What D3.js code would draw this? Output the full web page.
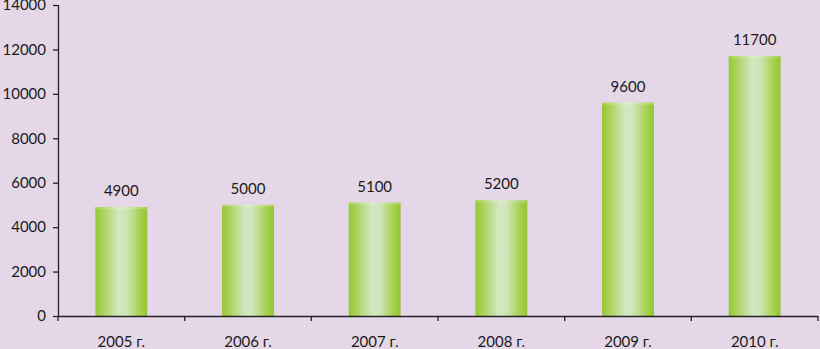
<!DOCTYPE html>
<html>
<head>
<meta charset="utf-8">
<script src="https://cdn.jsdelivr.net/npm/d3@7"></script>
<style>
  html, body { margin: 0; padding: 0; background: #e5d7e7; }
  svg { display: block; }
  text { font-family: Lato, "Open Sans", sans-serif; fill: #1a1a1a; }
</style>
</head>
<body>
<svg id="chart" width="820" height="349"></svg>
<script>
const categories = ["2005 г.", "2006 г.", "2007 г.", "2008 г.", "2009 г.", "2010 г."];
const values = [4900, 5000, 5100, 5200, 9600, 11700];
const yTicks = [0, 2000, 4000, 6000, 8000, 10000, 12000, 14000];

const svg = d3.select("#chart");
const W = 820, H = 349;
const m = { left: 58, right: 2, top: 5, bottom: 33 };

const x = d3.scaleBand().domain(categories).range([m.left, W - m.right]).paddingInner(0.59).paddingOuter(0.295);
const y = d3.scaleLinear().domain([0, 14000]).range([H - m.bottom, m.top]);

const defs = svg.append("defs");
const grad = defs.append("linearGradient").attr("id", "barGrad").attr("x1", "0%").attr("x2", "100%").attr("y1", "0%").attr("y2", "0%");
grad.append("stop").attr("offset", "0%").attr("stop-color", "#94c73a");
grad.append("stop").attr("offset", "12%").attr("stop-color", "#a6d052");
grad.append("stop").attr("offset", "45%").attr("stop-color", "#d3e7c2");
grad.append("stop").attr("offset", "60%").attr("stop-color", "#cfe5b8");
grad.append("stop").attr("offset", "88%").attr("stop-color", "#a3cf47");
grad.append("stop").attr("offset", "100%").attr("stop-color", "#93c534");

const capGrad = defs.append("linearGradient").attr("id", "capGrad").attr("x1", "0%").attr("x2", "100%");
capGrad.append("stop").attr("offset", "0%").attr("stop-color", "#a7d150");
capGrad.append("stop").attr("offset", "50%").attr("stop-color", "#e0efd2");
capGrad.append("stop").attr("offset", "100%").attr("stop-color", "#a7d150");

const g = svg.append("g");

g.selectAll("rect.bar").data(values).join("rect")
  .attr("class", "bar")
  .attr("x", (d, i) => x(categories[i]))
  .attr("width", x.bandwidth())
  .attr("y", d => y(d))
  .attr("height", d => y(0) - y(d))
  .attr("fill", "url(#barGrad)");

g.selectAll("rect.cap").data(values).join("rect")
  .attr("class", "cap")
  .attr("x", (d, i) => x(categories[i]))
  .attr("width", x.bandwidth())
  .attr("y", d => y(d))
  .attr("height", 2)
  .attr("fill", "url(#capGrad)");

g.selectAll("text.val").data(values).join("text")
  .attr("class", "val")
  .attr("x", (d, i) => x(categories[i]) + x.bandwidth() / 2)
  .attr("y", d => y(d) - 11)
  .attr("text-anchor", "middle")
  .attr("font-size", "15px")
  .text(d => d);

// y axis
const yAxis = svg.append("g").attr("transform", `translate(${m.left},0)`)
  .call(d3.axisLeft(y).tickValues(yTicks).tickSize(5).tickPadding(7).tickFormat(d3.format("d")));
yAxis.selectAll("text").attr("font-size", "15px").style("font-family", "Lato, 'Open Sans', sans-serif").attr("fill", "#1a1a1a");
yAxis.selectAll("line, path").attr("stroke", "#222").attr("stroke-width", 1.3);
yAxis.select("path").attr("d", `M0.5,${y(14000)}V${y(0)}`);

// x axis
const boundaries = categories.map(c => x(c) - x.step() * x.paddingInner() / 2).concat([W - m.right]);
const xAxisG = svg.append("g");
xAxisG.append("line").attr("x1", m.left).attr("x2", W - m.right).attr("y1", y(0) + 0.5).attr("y2", y(0) + 0.5).attr("stroke", "#222").attr("stroke-width", 1.3);
xAxisG.selectAll("line.tick").data(boundaries).join("line").attr("class", "tick")
  .attr("x1", d => d).attr("x2", d => d).attr("y1", y(0)).attr("y2", y(0) + 5)
  .attr("stroke", "#222").attr("stroke-width", 1.3);
xAxisG.selectAll("text").data(categories).join("text")
  .attr("x", c => x(c) + x.bandwidth() / 2)
  .attr("y", y(0) + 31)
  .attr("text-anchor", "middle")
  .attr("font-size", "15px")
  .text(c => c);
</script>
</body>
</html>
